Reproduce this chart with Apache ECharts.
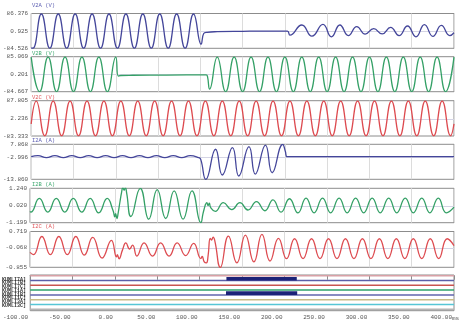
<!DOCTYPE html>
<html>
<head>
<meta charset="utf-8">
<script src="https://cdn.jsdelivr.net/npm/echarts@6/dist/echarts.min.js"></script>
<style>
html,body{margin:0;padding:0;background:#fff}
#c{width:463px;height:334px}
</style>
</head>
<body>
<div id="c"></div>
<script>
// ---- time axis (ms) ----
const timeMin = -100;
const timeMax = 400;
const timeStep = 50;
const timeUnit = 'ms';

// ---- analog channels ----
const channelNames = ['V2A (V)', 'V2B (V)', 'V2C (V)', 'I2A (A)', 'I2B (A)', 'I2C (A)'];
const channelMin = [-84.526, -84.667, -83.333, -13.860, -1.199, -0.855];
const channelMax = [86.376, 85.069, 87.805, 7.868, 1.240, 0.719];
const channelTickLabels = [
  ['-84.526', '0.925', '86.376'],
  ['-84.667', '0.201', '85.069'],
  ['-83.333', '2.236', '87.805'],
  ['-13.860', '-2.996', '7.868'],
  ['-1.199', '0.020', '1.240'],
  ['-0.855', '-0.068', '0.719']
];

// [time ms, value] samples at the waveform extremes
const v2a = [
  [-100,-82],[-98,-84],[-88,84],[-78,-84],[-68,84],[-58,-84],[-48,84],[-38,-84],[-28,84],[-18,-84],
  [-8,84],[2,-84],[12,84],[22,-84],[32,84],[42,-84],[52,84],[62,-84],[72,84],[82,-84],[92,84],
  [101,-64],[104,-12],[108,-6],[120,-3],[150,-1],[180,0],[203,0],[206,-20],[220,30],[232,-25],
  [245,33],[255,-28],[265,30],[275,-22],[285,22],[295,-15],[305,12],[315,-14],[325,18],[335,-22],
  [345,25],[355,-28],[365,32],[375,-26],[385,28],[395,-22],[400,-8]
];
const v2b = [
  [-100,83],[-90,-84],[-80,83],[-70,-84],[-60,83],[-50,-84],[-40,83],[-30,-84],[-20,83],[-10,-84],
  [0,83],[3,-9],[6,-6],[20,-5],[60,-4],[107,-3],[108.5,-12],[111,-72],[120,83],[130,-84],[140,83],
  [150,-84],[160,83],[170,-84],[180,83],[190,-84],[200,83],[210,-84],[220,83],[230,-84],[240,83],
  [250,-84],[260,83],[270,-84],[280,83],[290,-84],[300,83],[310,-84],[320,83],[330,-84],[340,83],
  [350,-84],[360,83],[370,-84],[380,83],[390,-84],[400,83]
];
const v2c = [
  [-100,-25],[-94,86],[-84,-82],[-74,86],[-64,-82],[-54,86],[-44,-82],[-34,86],[-24,-82],[-14,86],
  [-4,-82],[6,86],[16,-82],[26,86],[36,-82],[46,86],[56,-82],[66,86],[76,-82],[86,86],[96,-82],
  [106,86],[116,-82],[126,86],[136,-82],[146,86],[156,-82],[166,86],[176,-82],[186,86],[196,-82],
  [206,86],[216,-82],[226,86],[236,-82],[246,86],[256,-82],[266,86],[276,-82],[286,86],[296,-82],
  [306,86],[316,-82],[326,86],[336,-82],[346,86],[356,-82],[366,86],[376,-82],[386,86],[396,-82],
  [400,-25]
];
const i2a = [
  [-100,0.2],[-92,0.8],[-82,-0.4],[-72,0.8],[-62,-0.4],[-52,0.8],[-42,-0.4],[-32,0.8],[-22,-0.4],
  [-12,0.8],[-2,-0.4],[8,0.8],[18,-0.4],[28,0.8],[38,-0.4],[48,0.8],[58,-0.4],[68,0.8],[78,-0.4],
  [88,0.8],[98,-0.4],[100.5,-1.5],[106.5,-13.9],[118,4.8],[126,-11.2],[138,5.8],[145.5,-11.8],
  [157.5,6.4],[165,-10.6],[177,7.4],[185,-9.8],[197.5,7.8],[200.5,3.5],[202.5,0.2],[206,0.2],[400,0.2]
];
const i2b = [
  [-100,-0.4],[-99,-0.45],[-89,0.52],[-79,-0.45],[-69,0.52],[-59,-0.45],[-49,0.52],[-39,-0.45],
  [-29,0.52],[-19,-0.5],[-9,0.52],[-2,-0.35],[0,-0.78],[1,-0.55],[2.5,-0.9],[4,-0.5],[6,0.25],
  [8,0.95],[9.5,1.3],[11,1.1],[12.5,1.3],[14,0.9],[19,-0.76],[30,1.24],[40,-0.95],[50,1.14],
  [60,-0.9],[70,1.06],[80.5,-0.95],[91,1.06],[101.5,-1.2],[104,-0.55],[106,-0.1],[107,0.1],
  [108.5,0.22],[110,0.02],[111.5,0.18],[113,-0.12],[118.5,-0.4],[128,0.22],[138,-0.27],[147.5,0.22],
  [157,-0.3],[167,0.3],[177,-0.35],[186.5,0.42],[196,-0.45],[206,0.5],[216,-0.5],[225.5,0.55],
  [235,-0.5],[245,0.55],[254.5,-0.5],[264.5,0.55],[274,-0.5],[284,0.55],[293.5,-0.5],[303.5,0.55],
  [313,-0.5],[323,0.55],[332.5,-0.5],[342.5,0.55],[352,-0.5],[362,0.55],[371.5,-0.5],[381.5,0.55],
  [391,-0.5],[400,-0.1]
];
const i2c = [
  [-100,-0.2],[-96,-0.3],[-86,0.5],[-76,-0.3],[-66,0.5],[-56,-0.3],[-46,0.5],[-36,-0.32],[-26,0.46],
  [-15,-0.45],[-4,0.33],[2,-0.4],[3,-0.3],[5,-0.48],[9,-0.1],[13,0.22],[17.5,-0.05],[21,0.12],
  [26,-0.36],[34.5,0.22],[44.5,-0.36],[54,0.22],[64,-0.36],[73.5,0.22],[83.5,-0.34],[93,0.2],
  [101.5,-0.47],[103,-0.38],[105.5,-0.62],[108,-0.66],[110,-0.35],[112.5,0.42],[114,0.34],[116,0.47],
  [118,0.3],[124.5,-0.86],[134,0.52],[144,-0.66],[154,0.56],[164,-0.62],[173.5,0.59],[183,-0.58],
  [193,0.42],[202.5,-0.47],[212,0.4],[222,-0.47],[232,0.4],[242,-0.47],[252,0.4],[262,-0.47],
  [272,0.4],[282,-0.47],[292,0.4],[302,-0.47],[312,0.4],[322,-0.47],[332,0.4],[342,-0.47],
  [352,0.4],[362,-0.47],[372,0.4],[382,-0.47],[392,0.4],[400,0.1]
];
const channelData = [v2a, v2b, v2c, i2a, i2b, i2c];

// ---- digital channels ----
const digitalNames = ['KUMLI7A]', 'KUMLI7B]', 'KUMLI7C]', 'KUMLI1A]', 'KUMLI1B]', 'KUMLI1C]', 'KUMLI3A]', 'KUMLI3C]'];
// closed intervals (ms) per digital channel
const digitalOn = [[], [[131.5, 214.5]], [], [], [[131, 215]], [], [], []];

// ---- styling ----
const FONT = 'Liberation Mono';
const BLUE = '#44469a', GREEN = '#34a066', RED = '#dd4b50';
const channelColors = [BLUE, GREEN, RED, BLUE, GREEN, RED];
const titleColors = ['#5a5cb0', '#3fa870', '#e0575b', '#5a5cb0', '#3fa870', '#e0575b'];
const digitalColors = ['#d8a0a6', '#5b5fa8', '#c85450', '#2ea36a', '#6064ac', '#c9bb86', '#56c6d6', '#b4b4b4'];
const ON_COLOR = '#1c2378';

const gridTops = [13.5, 56.7, 100.7, 144.3, 188.3, 231.5, 275];
const gridHeights = [34.8, 35, 35.3, 35, 34.4, 35.8, 35.7];
const titleY = [5.5, 53.2, 97.3, 140.2, 184.2, 226.5];

const grids = gridTops.map((top, i) => ({
  left: 30, right: 9, top: top, height: gridHeights[i],
  show: true, borderColor: '#8c8c8c', borderWidth: 1, backgroundColor: 'transparent'
}));

const xAxes = gridTops.map((_, i) => {
  const last = i === gridTops.length - 1;
  return {
    gridIndex: i, type: 'value', min: timeMin, max: timeMax, interval: timeStep,
    axisLine: { show: last, lineStyle: { color: '#8c8c8c' } },
    axisTick: { show: last, length: 4, lineStyle: { color: '#8c8c8c' } },
    splitLine: { show: !last, lineStyle: { color: '#dcdcdc', width: 1 } },
    axisLabel: last ? {
      show: true, fontSize: 6, color: '#555', fontFamily: FONT, align: 'right',
      padding: [0, 2, 0, 0], margin: 4,
      formatter: v => v.toFixed(2)
    } : { show: false }
  };
});

const yAxes = channelNames.map((_, i) => {
  const lo = channelMin[i], hi = channelMax[i], labels = channelTickLabels[i];
  return {
    gridIndex: i, type: 'value', min: lo, max: hi,
    axisLine: { show: false },
    axisTick: { show: false, customValues: [0] },
    splitLine: { show: true, lineStyle: { color: '#d4d4e4', width: 1 } },
    axisLabel: {
      customValues: [lo, 0, hi], fontSize: 6, color: '#555', fontFamily: FONT, margin: 3,
      formatter: v => (v === lo ? labels[0] : v === hi ? labels[2] : labels[1])
    }
  };
});
yAxes.push({
  gridIndex: 6, type: 'value', min: -0.15, max: 7.3, inverse: true,
  axisLine: { show: false }, axisTick: { show: false }, splitLine: { show: false }, axisLabel: { show: false }
});

const series = [];
channelData.forEach((data, i) => {
  series.push({
    type: 'line', xAxisIndex: i, yAxisIndex: i, data: data,
    showSymbol: false, smooth: 0.5, clip: true, animation: false,
    lineStyle: { width: 1.3, color: channelColors[i] }, itemStyle: { color: channelColors[i] }
  });
});
digitalNames.forEach((_, k) => {
  series.push({
    type: 'line', xAxisIndex: 6, yAxisIndex: 6, data: [[timeMin, k], [timeMax, k]],
    showSymbol: false, animation: false,
    lineStyle: { width: 1.5, color: digitalColors[k] }
  });
  digitalOn[k].forEach(([t0, t1]) => {
    // raised level drawn just above the channel baseline
    series.push({
      type: 'line', xAxisIndex: 6, yAxisIndex: 6, data: [[t0, k - 0.37], [t1, k - 0.37]],
      showSymbol: false, animation: false,
      lineStyle: { width: 3.6, color: ON_COLOR, cap: 'butt' }
    });
  });
});

const graphics = channelNames.map((name, i) => ({
  type: 'text', left: 32, top: titleY[i] - 3,
  style: { text: name, fontSize: 5.5, fontFamily: FONT, fill: titleColors[i] }
}));
graphics.push({
  type: 'text', left: 2, top: 277,
  style: { text: digitalNames.join('\n'), fontSize: 5, lineHeight: 3.7, fontFamily: FONT, fontWeight: 'bold', fill: '#333' }
});
// unit of the time axis, after the last tick label
graphics.push({
  type: 'text', left: 452, top: 315.5,
  style: { text: timeUnit, fontSize: 6, fontFamily: FONT, fill: '#555' }
});

const chart = echarts.init(document.getElementById('c'), null, { renderer: 'canvas' });
chart.setOption({
  animation: false,
  backgroundColor: '#fff',
  grid: grids,
  xAxis: xAxes,
  yAxis: yAxes,
  series: series,
  graphic: graphics
});
</script>
</body>
</html>
